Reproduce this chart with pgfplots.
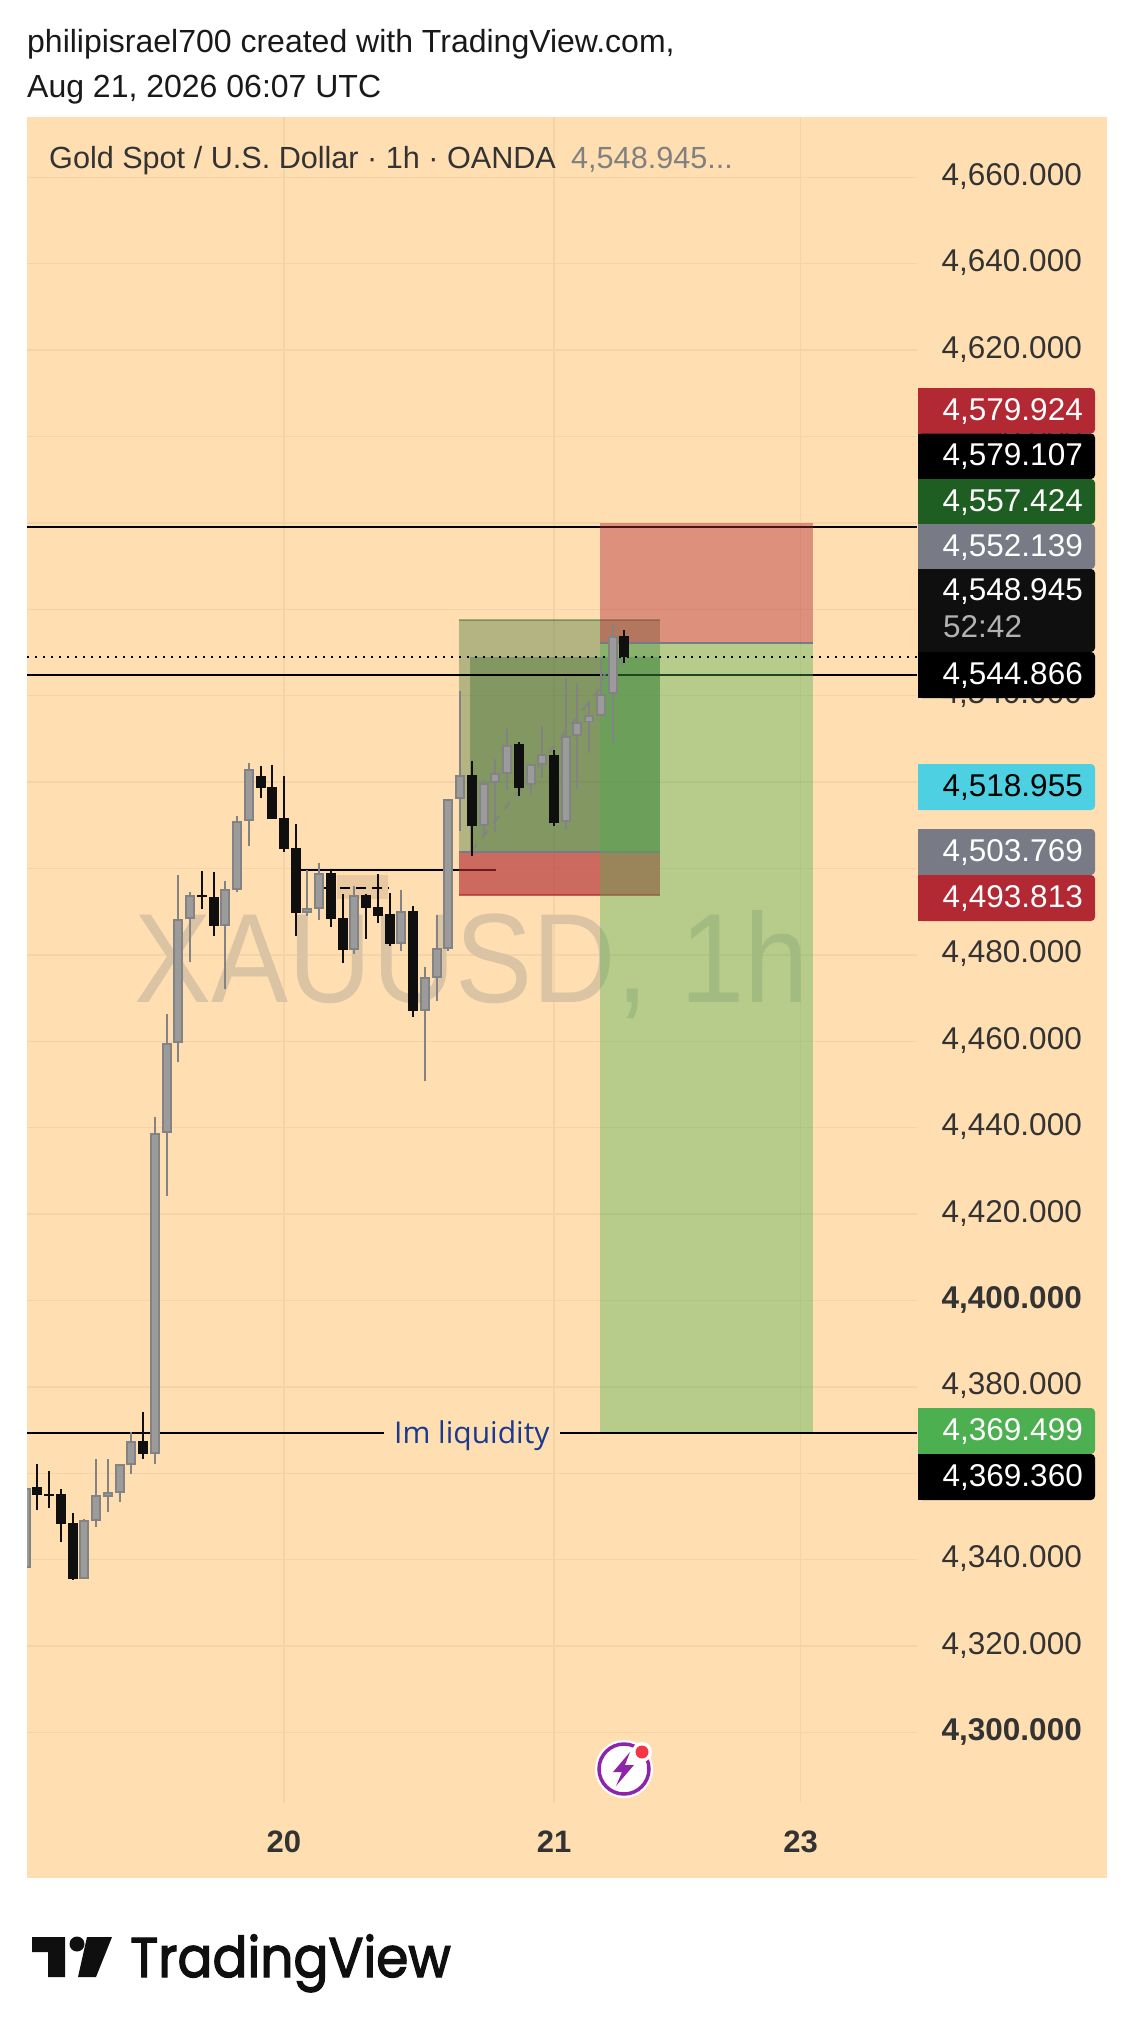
\documentclass[border=0pt]{standalone}
\usepackage{fontspec}
\usepackage{pgfplots}
\usepackage{pgfplotstable}
\pgfplotsset{compat=1.18}
\setmainfont{Liberation Sans}
\newfontfamily\tvfont[FakeBold=2.4]{Poppins}
\newfontfamily\liqfont{Open Sans}

\definecolor{panel}{HTML}{FFDFB2}
\definecolor{gridc}{HTML}{F2D4A8}
\definecolor{tickc}{HTML}{333333}
\definecolor{tvred}{HTML}{B22833}
\definecolor{tvgreen}{HTML}{1E5E22}
\definecolor{tvlime}{HTML}{4CAF50}
\definecolor{tvgray}{HTML}{787B86}
\definecolor{tvcyan}{HTML}{4DD0E1}
\definecolor{tvdark}{HTML}{0F0F0F}
\definecolor{candleedge}{HTML}{838383}
\definecolor{candlefill}{HTML}{9B9B9B}

\newcommand{\fs}[1]{\fontsize{#1}{#1}\selectfont}

% hourly candles: x is the bar number, 0 is the 20th at 00:00
\pgfplotstableread{
x o h l c
-22 4338.0 4356.5 4338.0 4356.5
-17 4335.6 4349.4 4335.6 4349.2
-16 4349.0 4363.3 4347.6 4354.9
-15 4354.6 4363.3 4351.0 4355.6
-14 4355.5 4362.1 4353.4 4362.1
-13 4362.0 4369.6 4359.8 4367.4
-11 4364.5 4442.5 4362.1 4438.7
-10 4438.7 4466.3 4424.3 4459.5
-9 4459.5 4498.6 4455.3 4488.2
-8 4488.2 4494.5 4478.4 4493.8
-5 4486.8 4497.1 4472.1 4495.2
-4 4495.1 4512.2 4494.6 4511.1
-3 4511.1 4524.4 4505.2 4522.95
2 4489.8 4499.7 4488.9 4490.8
3 4490.7 4501.2 4488.1 4498.9
6 4481.1 4495.9 4480.2 4493.8
10 4482.6 4495.0 4480.9 4490.1
12 4467.1 4477.2 4450.8 4474.8
13 4474.7 4489.2 4469.3 4481.5
14 4481.4 4516.2 4480.9 4516.0
15 4516.0 4541.1 4508.7 4521.6
17 4509.9 4520.4 4507.8 4519.9
18 4519.9 4525.3 4508.4 4522.0
19 4521.9 4532.3 4518.2 4528.7
21 4519.4 4524.3 4517.0 4524.2
22 4524.0 4533.0 4521.0 4526.4
24 4510.7 4544.1 4508.9 4530.7
25 4530.7 4542.9 4518.4 4533.8
26 4533.8 4538.8 4526.7 4535.45
27 4535.4 4548.3 4535.4 4540.4
28 4540.5 4556.4 4529.1 4553.8
}\bullbars

\pgfplotstableread{
x o h l c
-21 4356.8 4362.1 4351.5 4355.0
-20 4355.2 4360.5 4352.0 4354.8
-19 4355.2 4356.4 4344.1 4348.3
-18 4348.5 4350.7 4335.3 4335.6
-12 4367.5 4374.2 4363.3 4364.5
-7 4493.8 4499.4 4490.6 4493.3
-6 4493.4 4499.2 4484.4 4486.7
-2 4521.4 4523.7 4516.3 4518.6
-1 4518.9 4523.96 4511.5 4511.5
0 4511.7 4521.4 4503.8 4504.5
1 4504.7 4510.3 4484.4 4489.7
4 4498.9 4499.7 4486.5 4488.3
5 4488.5 4494.1 4478.1 4481.1
7 4493.9 4494.1 4483.7 4490.9
8 4491.1 4498.7 4487.4 4489.0
9 4489.5 4494.3 4482.1 4482.5
11 4490.2 4491.3 4465.6 4467.0
16 4521.6 4524.9 4502.9 4509.8
20 4528.8 4529.3 4516.8 4518.6
23 4526.3 4527.4 4509.8 4510.5
29 4553.8 4555.2 4547.6 4548.945
}\bearbars

% wick, from high down to low
\newcommand{\wicks}[2]{%
  \addplot[draw=none,mark=none,forget plot,
    error bars/.cd,y dir=minus,y explicit,error mark=none,
    error bar style={line width=2pt,color=#2}]
    table[x=x,y=h,y error minus expr=\thisrow{h}-\thisrow{l}] {#1};}
% body as a wide error bar, top is the larger of open and close
\newcommand{\bodies}[4]{%
  \addplot[draw=none,mark=none,forget plot,
    error bars/.cd,y dir=minus,y explicit,error mark=none,
    error bar style={line width=#3pt,color=#2}]
    table[x=x,y expr={max(\thisrow{o},\thisrow{c})-#4},
      y error minus expr={max(abs(\thisrow{o}-\thisrow{c})-2*#4,0.25)}] {#1};}

% price tag on the right scale, pixel positions
\newcommand{\pricetag}[5]{%
  \fill[#1,rounded corners=4pt] (918,#2) rectangle (1095,#3);
  \fill[#1] (918,#2) rectangle (1000,#3);
  \node[anchor=base east,inner sep=0,text=#4,font=\fs{31.5}] at (1083,{(#2+#3)/2+9.7}) {#5};}

\begin{document}
\begin{tikzpicture}
\begin{scope}[x=1pt,y=-1pt]
  \path[use as bounding box,fill=white] (0,0) rectangle (1134,2038);
  \fill[panel] (27,117) rectangle (1107,1878);
  \node[anchor=base west,inner sep=0,text=black!90,font=\fs{32}] at (27,52) {philipisrael700 created with TradingView.com,};
  \node[anchor=base west,inner sep=0,text=black!90,font=\fs{32}] at (27,97) {Aug 21, 2026 06:07 UTC};
\end{scope}

\begin{axis}[
  at={(27pt,-117pt)},anchor=north west,
  scale only axis,width=890pt,height=1686pt,
  xmin=-21.89,xmax=53.92,ymin=4283.68,ymax=4673.96,
  axis line style={draw=none},
  major tick length=0pt,
  grid=major,
  grid style={line width=1.5pt,color=gridc},
  xtick={0,23,44},xticklabels={20,21,23},
  ytick={4300,4320,...,4660},
  yticklabels={{\textbf{4,300.000}},{4,320.000},{4,340.000},{4,360.000},{4,380.000},{\textbf{4,400.000}},{4,420.000},{4,440.000},{4,460.000},{4,480.000},{4,500.000},{4,520.000},{4,540.000},{4,560.000},{4,580.000},{4,600.000},{4,620.000},{4,640.000},{4,660.000}},
  yticklabel pos=right,
  yticklabel style={anchor=base east,inner sep=0pt,xshift=165pt,yshift=-8pt,text=tickc,font=\fs{31.5}},
  xticklabel style={anchor=base,inner sep=0pt,yshift=-50pt,text=tickc,font=\fs{31}\bfseries},
]
% watermark
\node[anchor=base,inner sep=0,text={rgb,255:red,219;green,196;blue,163},font=\fs{127}] at (axis cs:16,4468.87) {\scalebox{.91}[1]{XAUUSD, 1h}};

% short level and the small drawn range under the long position
\addplot[fill={rgb,255:red,234;green,201;blue,160},draw=none] coordinates {(4.5,4498.5)(8.86,4498.5)(8.86,4492.9)(4.5,4492.9)};
\addplot[black,line width=2pt] coordinates {(0.94,4499.7)(18.06,4499.7)};
\addplot[black,line width=2pt,dash pattern=on 10pt off 6pt] coordinates {(3.4,4495.6)(8.94,4495.6)};

% long position, target part
\addplot[fill=tvgreen,fill opacity=.33,draw=none] coordinates {(14.9,4503.769)(32.03,4503.769)(32.03,4557.424)(14.9,4557.424)};
\addplot[fill=tvgreen,fill opacity=.33,draw=none] coordinates {(15.85,4503.769)(32.03,4503.769)(32.03,4548.945)(15.85,4548.945)};
% long position, stop part
\addplot[fill=tvred,fill opacity=.64,draw=none] coordinates {(14.9,4493.813)(32.03,4493.813)(32.03,4503.769)(14.9,4503.769)};
\addplot[tvgreen,opacity=.4,line width=2pt] coordinates {(14.9,4557.424)(32.03,4557.424)};
\addplot[tvgray,line width=2pt] coordinates {(14.9,4503.769)(32.03,4503.769)};
\addplot[tvred,opacity=.7,line width=2pt] coordinates {(14.9,4493.813)(32.03,4493.813)};

% full width levels
\addplot[black,line width=2pt] coordinates {(-21.89,4579.107)(53.92,4579.107)};
\addplot[black,line width=2pt] coordinates {(-21.89,4544.866)(53.92,4544.866)};
\addplot[black,line width=2pt] coordinates {(-21.89,4369.36)(8.52,4369.36)};
\addplot[black,line width=2pt] coordinates {(23.5,4369.36)(53.92,4369.36)};

% short position
\addplot[fill=tvred,fill opacity=.43,draw=none] coordinates {(26.9,4552.139)(45.05,4552.139)(45.05,4579.924)(26.9,4579.924)};
\addplot[fill=tvlime,fill opacity=.4,draw=none] coordinates {(26.9,4369.499)(45.05,4369.499)(45.05,4552.139)(26.9,4552.139)};
\addplot[tvgray,line width=2pt] coordinates {(26.9,4552.139)(45.05,4552.139)};

% dashed path and last price
\addplot[candleedge,line width=2pt,dash pattern=on 9pt off 9pt] coordinates {(15.93,4503.9)(26.9,4541.7)(27.9,4549.4)(28.6,4549.0)(29.2,4545.2)};
\addplot[black,line width=2pt,dash pattern=on 2pt off 6pt] coordinates {(-21.89,4548.945)(53.92,4548.945)};

\wicks{\bullbars}{candleedge}
\wicks{\bearbars}{tvdark}
\bodies{\bullbars}{candleedge}{10}{0}
\bodies{\bullbars}{candlefill}{6}{0.46}
\bodies{\bearbars}{tvdark}{10}{0}

\node[anchor=base,inner sep=0,text={rgb,255:red,26;green,58;blue,143},font=\liqfont\fs{30}] at (axis cs:16,4366.8) {Im liquidity};
\end{axis}

\begin{scope}[x=1pt,y=-1pt]
  \node[anchor=base west,inner sep=0,text=tickc,font=\fs{30.6}] at (49,168) {Gold Spot / U.S. Dollar · 1h · OANDA};
  \node[anchor=base west,inner sep=0,text=black!50,font=\fs{30.6}] at (571,168) {4,548.945...};

  \pricetag{tvred}{388}{433.5}{white}{4,579.924}
  \pricetag{black}{433.5}{479}{white}{4,579.107}
  \pricetag{tvgreen}{479}{524}{white}{4,557.424}
  \pricetag{tvgray}{524}{569}{white}{4,552.139}
  \fill[tvdark,rounded corners=4pt] (918,569) rectangle (1095,652);
  \fill[tvdark] (918,569) rectangle (1000,652);
  \node[anchor=base east,inner sep=0,text=white,font=\fs{31.5}] at (1083,600) {4,548.945};
  \node[anchor=base west,inner sep=0,text=black!30,font=\fs{31.5}] at (943,637) {52:42};
  \pricetag{black}{652}{698}{white}{4,544.866}
  \pricetag{tvcyan}{764}{810}{black}{4,518.955}
  \pricetag{tvgray}{829}{875}{white}{4,503.769}
  \pricetag{tvred}{875}{921}{white}{4,493.813}
  \pricetag{tvlime}{1408}{1454}{white}{4,369.499}
  \pricetag{black}{1454}{1500}{white}{4,369.360}

  % bolt badge
  \fill[white] (624,1769) circle (29);
  \draw[color={rgb,255:red,142;green,36;blue,170},line width=3.5pt] (624,1769) circle (25);
  \fill[color={rgb,255:red,142;green,36;blue,170}] (630,1752) -- (613,1772) -- (622,1772) -- (616,1786) -- (634,1765) -- (625,1765) -- cycle;
  \fill[white] (642,1752) circle (10);
  \fill[color={rgb,255:red,242;green,54;blue,69}] (642,1752) circle (6.5);

  % logo
  \fill[tvdark] (32,1937) -- (65,1937) -- (65,1977) -- (48,1977) -- (48,1952) -- (32,1952) -- cycle;
  \fill[tvdark] (77,1944) circle (7.5);
  \fill[tvdark] (87,1937) -- (112,1937) -- (96,1977) -- (78,1977) -- cycle;
  \node[anchor=base west,inner sep=0,text=tvdark,font=\tvfont\fs{56}] at (130,1977) {\scalebox{.925}[1]{TradingView}};
\end{scope}
\end{tikzpicture}
\end{document}
